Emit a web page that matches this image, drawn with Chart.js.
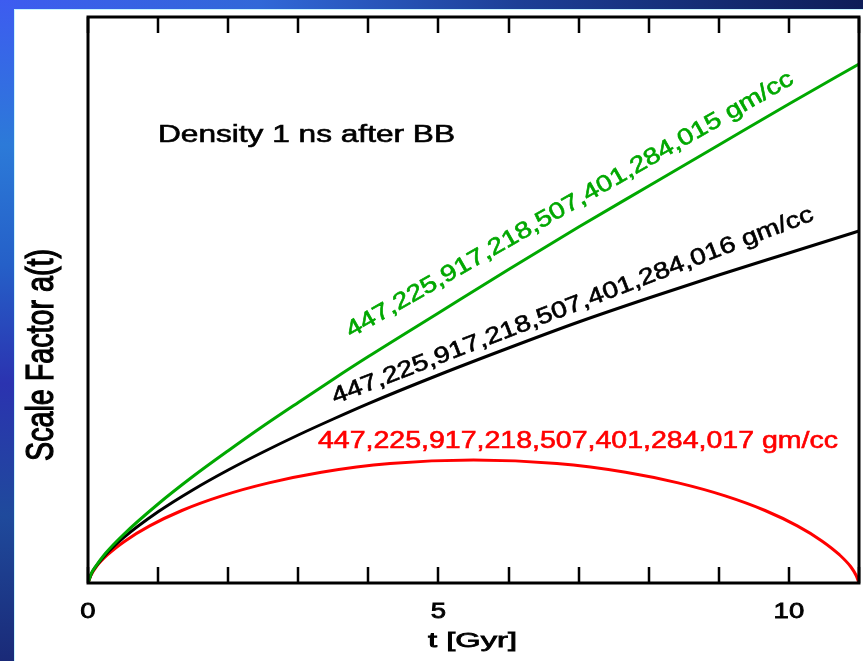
<!DOCTYPE html>
<html>
<head>
<meta charset="utf-8">
<script src="https://cdn.jsdelivr.net/npm/chart.js@4.4.1/dist/chart.umd.min.js"></script>
<style>
  html, body { margin: 0; padding: 0; }
  body { width: 863px; height: 661px; position: relative; overflow: hidden; background: #fff; }
  .topbar { position: absolute; left: 0; top: 0; width: 863px; height: 9px;
    background: linear-gradient(to right, #3d5cf0 0%, #3168d8 30%, #1d3f96 60%, #0e1d58 100%); }
  .leftbar { position: absolute; left: 0; top: 0; width: 14px; height: 661px;
    background: linear-gradient(to bottom, #3d5cf0 0%, #2c7ad8 22%, #2560c8 40%, #2b33b0 58%, #1f4a9c 78%, #1a2a78 100%); }
  .panel { position: absolute; left: 14px; top: 9px; right: 0; bottom: 0; background: #fff;
    border-left: 1px solid #c6f4ff; border-top: 1px solid #c6f4ff; }
  #chart { position: absolute; left: 0; top: 0; }
</style>
</head>
<body>
<div class="topbar"></div>
<div class="leftbar"></div>
<div class="panel"></div>
<canvas id="chart" width="863" height="661"></canvas>
<script>
// time in Gyr, scale factor in arbitrary units (no y ticks on the original)
const times = [0, 0.05, 0.1, 0.25, 0.5, 1, 1.5, 2, 2.5, 3, 3.5, 4, 5, 6, 7, 8, 9, 10, 11];
const greenA = [0, 9.8, 15.6, 29.7, 48, 79, 106.7, 132.3, 157, 180.6, 203.8, 226.4, 270, 313.5, 356, 397, 438, 479, 519];
const blackA = [0, 9.7, 15.3, 28.3, 44.9, 71.2, 93.3, 113, 131, 148, 164, 179.4, 208, 235, 261, 285, 308, 330, 352];

const redTimes = [0, 0.04, 0.12, 0.28, 0.53, 0.88, 1.34, 1.91, 2.58, 3.33, 4.31, 5.5, 6.69, 7.67, 8.42, 9.09, 9.66, 10.12, 10.47, 10.72, 10.88, 10.96, 11];
const redA = [0, 7.5, 16.5, 28.3, 42.1, 57.1, 72.5, 87.1, 100.1, 110.8, 119.5, 123, 119.5, 110.8, 100.1, 87.1, 72.5, 57.1, 42.1, 28.3, 16.5, 7.5, 0];

const xTicks = [0, 1, 2, 3, 4, 5, 6, 7, 8, 9, 10, 11];
const xTickLabels = ['0', '5', '10'];

const greenLabel = '447,225,917,218,507,401,284,015 gm/cc';
const blackLabel = '447,225,917,218,507,401,284,016 gm/cc';
const redLabel = '447,225,917,218,507,401,284,017 gm/cc';

function pts(xs, ys) {
  return xs.map((x, i) => ({ x: x, y: ys[i] }));
}

const FONT = '"Liberation Sans", Arial, sans-serif';

// text is stretched to the length it has on the original, and stroked a little to look heavier
function drawText(ctx, text, x, y, o) {
  ctx.save();
  ctx.translate(x, y);
  ctx.rotate((o.angle || 0) * Math.PI / 180);
  ctx.font = o.size + 'px ' + FONT;
  ctx.fillStyle = o.color || '#000';
  ctx.strokeStyle = o.color || '#000';
  ctx.textAlign = o.align || 'left';
  ctx.textBaseline = 'alphabetic';
  const w = ctx.measureText(text).width;
  const sx = o.length ? o.length / w : (o.sx || 1);
  ctx.scale(sx, o.cross || 1);
  ctx.fillText(text, 0, 0);
  ctx.lineWidth = o.weight || 0.6;
  ctx.strokeText(text, 0, 0);
  ctx.restore();
}

const framePlugin = {
  id: 'frame',
  afterDraw(chart) {
    const ctx = chart.ctx;
    const a = chart.chartArea;
    const xs = chart.scales.x;
    ctx.save();
    ctx.strokeStyle = '#000';
    ctx.lineWidth = 3;
    ctx.strokeRect(a.left, a.top, a.right - a.left, a.bottom - a.top);
    ctx.lineWidth = 2.5;
    ctx.beginPath();
    xTicks.forEach(v => {
      const px = Math.round(xs.getPixelForValue(v));
      ctx.moveTo(px, a.bottom);
      ctx.lineTo(px, a.bottom - 16);
      ctx.moveTo(px, a.top);
      ctx.lineTo(px, a.top + 16);
    });
    ctx.stroke();
    ctx.restore();

    xTickLabels.forEach(t => {
      drawText(ctx, t, xs.getPixelForValue(Number(t)), 618, { size: 22, align: 'center', sx: 1.25, weight: 0.8 });
    });
    drawText(ctx, 't [Gyr]', 428, 647, { size: 21, length: 89, weight: 0.8 });
    drawText(ctx, 'Scale Factor a(t)', 53, 461, { size: 28, length: 212, angle: -90, cross: 1.4, weight: 0.9 });
    drawText(ctx, 'Density 1 ns after BB', 158, 142, { size: 23, length: 297 });
    drawText(ctx, greenLabel, 351, 338, { size: 23, length: 512, angle: -29.9, color: '#00a800' });
    drawText(ctx, blackLabel, 335, 404, { size: 23, length: 514, angle: -21 });
    drawText(ctx, redLabel, 318, 448, { size: 24, length: 520, color: '#ff0000' });
  }
};

const ctx = document.getElementById('chart');

new Chart(ctx, {
  type: 'scatter',
  data: {
    datasets: [
      { label: 'green', data: pts(times, greenA), borderColor: '#00a800' },
      { label: 'black', data: pts(times, blackA), borderColor: '#000000' },
      { label: 'red', data: pts(redTimes, redA), borderColor: '#ff0000' }
    ]
  },
  options: {
    responsive: false,
    animation: false,
    showLine: true,
    layout: { padding: { left: 88, top: 17, right: 4, bottom: 78 } },
    elements: {
      point: { radius: 0 },
      line: { borderWidth: 3, cubicInterpolationMode: 'monotone', fill: false }
    },
    scales: {
      x: { type: 'linear', min: 0, max: 11, display: false },
      y: { type: 'linear', min: 0, max: 566, display: false }
    },
    plugins: { legend: { display: false }, tooltip: { enabled: false } }
  },
  plugins: [framePlugin]
});
</script>
</body>
</html>
